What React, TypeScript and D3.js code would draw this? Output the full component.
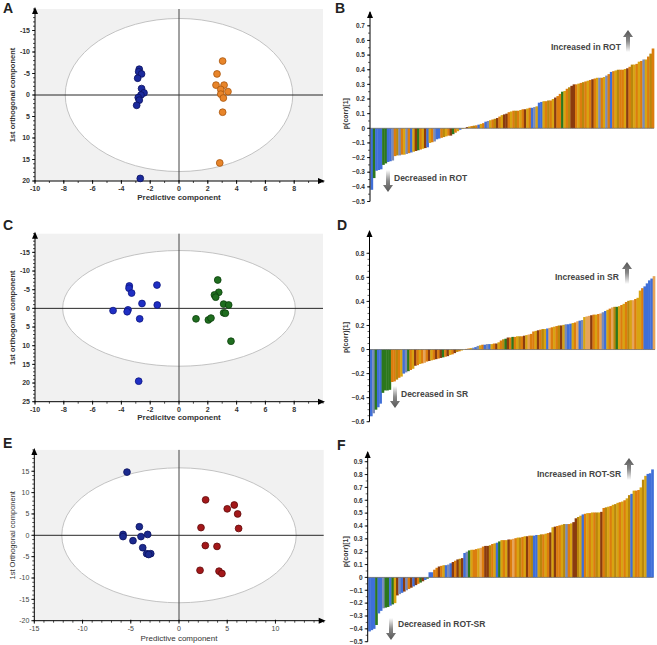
import * as d3 from "d3";

const FONT = "'Liberation Sans', Arial, Helvetica, sans-serif";

type Pt = [number, number];

// ---- score plots (predictive vs 1st orthogonal) ----
const aBlue: Pt[] = [[-2.76, -6.0], [-2.8, -5.4], [-2.6, -4.9], [-2.87, -3.9], [-2.6, -1.5], [-2.43, -0.5], [-2.64, 0], [-2.83, 0.6], [-2.76, 1.2], [-2.94, 2.4], [-2.69, 19.4]];
const aOrange: Pt[] = [[3.03, -7.9], [2.64, -4.9], [2.57, -2.3], [3.13, -2.3], [2.9, -1.3], [3.4, -0.8], [2.9, -0.2], [3.08, 0.7], [3.03, 4.0], [2.83, 15.8]];

const cBlue: Pt[] = [[-3.45, -6.0], [-1.53, -6.25], [-3.47, -5.4], [-3.29, -4.1], [-2.57, -1.3], [-1.51, -0.9], [-4.58, 0.6], [-3.54, 0.4], [-3.6, 0.9], [-2.73, 2.8], [-2.8, 19.5]];
const cGreen: Pt[] = [[2.69, -7.6], [2.76, -4.3], [2.46, -3.6], [2.55, -3.0], [3.1, -1.15], [3.45, -0.9], [1.18, 2.8], [2.04, 3.1], [2.22, 2.6], [3.1, 1.2], [3.22, 1.3], [3.61, 8.8]];

const eBlue: Pt[] = [[-5.39, 14.8], [-4.11, 2.0], [-3.25, 0.2], [-5.8, 0.2], [-5.8, -0.3], [-3.94, -0.3], [-4.77, -1.26], [-3.76, -2.9], [-3.35, -4.3], [-2.93, -4.3], [-3.15, -4.5]];
const eRed: Pt[] = [[2.76, 8.3], [5.73, 7.1], [5.0, 6.2], [6.08, 5.0], [2.28, 1.8], [6.18, 1.6], [2.73, -2.4], [3.94, -2.6], [2.18, -8.2], [4.15, -8.4], [4.45, -8.95]];

const acXTicks = [-10, -8, -6, -4, -2, 0, 2, 4, 6, 8];
const aYTicks = [-15, -10, -5, 0, 5, 10, 15, 20];
const cYTicks = [-15, -10, -5, 0, 5, 10, 15, 20, 25];
const eXTicks = [-15, -10, -5, 0, 5, 10];
const eYTicks = [-20, -15, -10, -5, 0, 5, 10, 15];

// ---- loading plots p(corr)[1], sorted ----
const bValues = [
  -0.42, -0.34, -0.29, -0.285, -0.28, -0.25, -0.24, -0.23, -0.225, -0.22,
  -0.19, -0.185, -0.185, -0.18, -0.18, -0.175, -0.17, -0.165, -0.16, -0.155,
  -0.15, -0.145, -0.14, -0.135, -0.13, -0.1, -0.095, -0.09, -0.075, -0.07,
  -0.065, -0.06, -0.055, -0.05, -0.05, -0.04, -0.03, -0.02, -0.01, -0.005,
  0.002, 0.008, 0.012, 0.015, 0.018, 0.02, 0.025, 0.03, 0.035, 0.045,
  0.05, 0.055, 0.06, 0.065, 0.07, 0.08, 0.09, 0.095, 0.1, 0.11,
  0.115, 0.12, 0.12, 0.12, 0.125, 0.13, 0.13, 0.135, 0.14, 0.14,
  0.145, 0.15, 0.175, 0.18, 0.185, 0.185, 0.19, 0.19, 0.2, 0.21,
  0.22, 0.235, 0.25, 0.255, 0.27, 0.28, 0.29, 0.3, 0.3, 0.305,
  0.31, 0.315, 0.32, 0.325, 0.33, 0.335, 0.34, 0.345, 0.345, 0.345,
  0.35, 0.36, 0.37, 0.385, 0.39, 0.395, 0.4, 0.4, 0.4, 0.405,
  0.41, 0.42, 0.435, 0.435, 0.44, 0.455, 0.46, 0.47, 0.47, 0.49,
  0.51, 0.545,
];
const bColors = [
  "bgbbbggbbs", "oksoysobyr", "goyrbyosbb", "okyorgoyby",
  "oryokobyob", "syokroyrro", "yokoyoryob", "sybbyokoyr",
  "oogyokrroy", "okoyoroyso", "ysoboykooy", "rokyoyosyo", "ko",
].join("");

const dValues = [
  -0.555, -0.53, -0.5, -0.48, -0.45, -0.36, -0.34, -0.34, -0.335, -0.27,
  -0.265, -0.25, -0.235, -0.225, -0.2, -0.19, -0.18, -0.17, -0.16, -0.135,
  -0.13, -0.12, -0.115, -0.11, -0.1, -0.095, -0.09, -0.085, -0.08, -0.075,
  -0.07, -0.065, -0.06, -0.055, -0.045, -0.04, -0.03, -0.02, -0.015, -0.008,
  0.002, 0.005, 0.01, 0.012, 0.015, 0.02, 0.03, 0.035, 0.04, 0.04,
  0.045, 0.045, 0.045, 0.05, 0.05, 0.06, 0.075, 0.085, 0.09, 0.1,
  0.1, 0.105, 0.105, 0.11, 0.11, 0.11, 0.115, 0.12, 0.125, 0.13,
  0.15, 0.155, 0.16, 0.165, 0.17, 0.17, 0.175, 0.18, 0.185, 0.19,
  0.195, 0.2, 0.2, 0.205, 0.21, 0.21, 0.215, 0.22, 0.225, 0.235,
  0.24, 0.245, 0.27, 0.275, 0.28, 0.285, 0.29, 0.29, 0.295, 0.3,
  0.31, 0.32, 0.33, 0.34, 0.35, 0.355, 0.355, 0.36, 0.37, 0.38,
  0.395, 0.405, 0.41, 0.41, 0.42, 0.43, 0.49, 0.51, 0.525, 0.55,
  0.575, 0.59, 0.61,
];
const dColors = [
  "bsgbbggggo", "okoybsgoyr", "oyoloryoro", "rgoryorkoy",
  "yolysbsyob", "sbyoryokgr", "ogoykorylo", "oyrokybloy",
  "okrysbbyol", "bsyllroyol", "sbyolkgyoy", "okyloyyobb", "bbl",
].join("");

const fValues = [
  -0.42, -0.41, -0.4, -0.37, -0.28, -0.26, -0.24, -0.235, -0.23, -0.22,
  -0.21, -0.2, -0.14, -0.13, -0.12, -0.11, -0.1, -0.09, -0.08, -0.07,
  -0.06, -0.05, -0.04, -0.03, -0.02, -0.01,
  0.04, 0.04, 0.06, 0.075, 0.085, 0.09, 0.095, 0.095, 0.1, 0.11,
  0.12, 0.13, 0.14, 0.145, 0.15, 0.19, 0.2, 0.21, 0.215, 0.215,
  0.22, 0.225, 0.23, 0.24, 0.245, 0.245, 0.25, 0.26, 0.265, 0.27,
  0.28, 0.29, 0.29, 0.29, 0.295, 0.295, 0.3, 0.305, 0.31, 0.31,
  0.315, 0.32, 0.32, 0.325, 0.325, 0.325, 0.33, 0.33, 0.335, 0.335,
  0.34, 0.345, 0.35, 0.39, 0.395, 0.4, 0.405, 0.41, 0.415, 0.415,
  0.415, 0.42, 0.43, 0.46, 0.47, 0.48, 0.49, 0.495, 0.5, 0.5,
  0.505, 0.505, 0.505, 0.505, 0.51, 0.54, 0.545, 0.55, 0.555, 0.565,
  0.57, 0.58, 0.585, 0.59, 0.6, 0.615, 0.64, 0.65, 0.675, 0.675,
  0.68, 0.7, 0.76, 0.79, 0.805, 0.81, 0.84,
];
const fColors = [
  "bbbgbbsggb", "gyrsbrsorb", "rogrbg",
  "bbooroybsb", "rorkrbsgyo", "oylorrkoyb", "gyoyroloyk", "oyrokbbyko",
  "yoryrooyks", "oyrrkyboyo", "yokyrokyoy", "kyoyoykbyo", "oykybbb",
].join("");

const bTicks = [-0.5, -0.4, -0.3, -0.2, -0.1, 0, 0.1, 0.2, 0.3, 0.4, 0.5, 0.6, 0.7];
const dTicks = [-0.6, -0.4, -0.2, 0, 0.2, 0.4, 0.6, 0.8];
const fTicks = [-0.5, -0.4, -0.3, -0.2, -0.1, 0, 0.1, 0.2, 0.3, 0.4, 0.5, 0.6, 0.7, 0.8, 0.9];

const palette: Record<string, string> = {
  b: "#3f6fd8",
  s: "#7a8bb8",
  g: "#2c771c",
  o: "#dc7d0e",
  y: "#d8a412",
  k: "#b9870c",
  r: "#8a3b0e",
  l: "#e6a45a",
};

type Scale = d3.ScaleLinear<number, number>;

interface Group {
  pts: Pt[];
  fill: string;
  stroke: string;
}

function Scatter(props: {
  xs: Scale;
  ys: Scale;
  xTicks: number[];
  yTicks: number[];
  yMinor: number;
  ell: [number, number];
  groups: Group[];
  xLabel: string;
  yLabel: string;
  bold: boolean;
  xLabelY: number;
}) {
  const { xs, ys, xTicks, yTicks, yMinor, ell, groups, xLabel, yLabel, bold, xLabelY } = props;
  const [L, R] = xs.range();
  const yr = ys.range();
  const T = Math.min(yr[0], yr[1]);
  const B = Math.max(yr[0], yr[1]);
  const cx = xs(0);
  const cy = ys(0);
  const fw = bold ? "bold" : "normal";
  const tc = bold ? "#333" : "#444";
  const xd = xs.domain();
  const yd = ys.domain();
  const xMinor = d3.range(Math.ceil(Math.min(xd[0], xd[1])), Math.max(xd[0], xd[1]) + 1e-9, 1);
  const yMin = d3.range(Math.min(yd[0], yd[1]), Math.max(yd[0], yd[1]) + 1e-9, yMinor);
  return (
    <g fontFamily={FONT}>
      <rect x={L} y={T} width={R - L} height={B - T} fill="#f1f1f1" />
      <ellipse cx={cx} cy={cy} rx={xs(ell[0]) - cx} ry={Math.abs(ys(ell[1]) - cy)} fill="#fff" stroke="#bcbcbc" strokeWidth={0.9} />
      <line x1={L} x2={R} y1={cy} y2={cy} stroke="#111" strokeWidth={0.9} />
      <line x1={cx} x2={cx} y1={T} y2={B} stroke="#444" strokeWidth={1} />
      {/* axes */}
      <line x1={L} x2={L} y1={B} y2={T} stroke="#000" strokeWidth={1} />
      <path d={`M${L - 3},${T + 5}L${L},${T - 2}L${L + 3},${T + 5}Z`} fill="#000" />
      <line x1={L} x2={R} y1={B} y2={B} stroke="#000" strokeWidth={1} />
      <path d={`M${R - 5},${B - 3}L${R + 2},${B}L${R - 5},${B + 3}Z`} fill="#000" />
      {xMinor.map((v) => (
        <line key={"xm" + v} x1={xs(v)} x2={xs(v)} y1={B} y2={B + 2} stroke="#000" strokeWidth={0.7} />
      ))}
      {xTicks.map((v) => (
        <g key={"x" + v}>
          <line x1={xs(v)} x2={xs(v)} y1={B - 1} y2={B + 3} stroke="#000" strokeWidth={0.8} />
          <text x={xs(v)} y={B + 10} textAnchor="middle" fontSize={7} fontWeight={fw} fill={tc}>
            {v}
          </text>
        </g>
      ))}
      {yMin.map((v) => (
        <line key={"ym" + v} x1={L - 2} x2={L} y1={ys(v)} y2={ys(v)} stroke="#000" strokeWidth={0.7} />
      ))}
      {yTicks.map((v) => (
        <g key={"y" + v}>
          <line x1={L - 3} x2={L} y1={ys(v)} y2={ys(v)} stroke="#000" strokeWidth={0.8} />
          <text x={L - 5} y={ys(v)} dy="0.35em" textAnchor="end" fontSize={7} fontWeight={fw} fill={tc}>
            {v}
          </text>
        </g>
      ))}
      <text x={(L + R) / 2} y={xLabelY} textAnchor="middle" fontSize={8} fontWeight={fw} fill="#333">
        {xLabel}
      </text>
      <text transform={`translate(15,${(T + B) / 2}) rotate(-90)`} textAnchor="middle" fontSize={7.5} fontWeight={fw} fill="#333">
        {yLabel}
      </text>
      {groups.map((g, gi) =>
        g.pts.map((p, i) => (
          <circle key={gi + "-" + i} cx={xs(p[0])} cy={ys(p[1])} r={3.4} fill={g.fill} stroke={g.stroke} strokeWidth={0.8} />
        )),
      )}
    </g>
  );
}

function arrowPath(cx: number, tip: number, len: number, up: boolean) {
  const s = up ? 1 : -1;
  const h = 7 * s;
  const e = len * s;
  return `M${cx},${tip}L${cx + 5},${tip + h}L${cx + 2},${tip + h}L${cx + 2},${tip + e}L${cx - 2},${tip + e}L${cx - 2},${tip + h}L${cx - 5},${tip + h}Z`;
}

function Bars(props: {
  values: number[];
  colors: string;
  ys: Scale;
  x0: number;
  x1: number;
  ticks: number[];
  arrowTop: number;
  up: { text: string; x: number; y: number; ax: number; tip: number };
  down: { text: string; x: number; y: number; ax: number; tip: number };
}) {
  const { values, colors, ys, x0, x1, ticks, arrowTop, up, down } = props;
  const xb = d3.scaleBand<number>().domain(d3.range(values.length)).range([x0 + 0.5, x1]).padding(0);
  const yd = ys.domain();
  const minor = d3.range(yd[0], yd[1] + 1e-9, 0.05);
  const bottom = ys(yd[0]);
  const fmt = (v: number) => (Math.abs(v) < 1e-9 ? "0" : d3.format(".1f")(v));
  return (
    <g fontFamily={FONT}>
      {values.map((v, i) => (
        <rect
          key={i}
          x={xb(i)}
          width={xb.bandwidth() + 0.35}
          y={Math.min(ys(0), ys(v))}
          height={Math.abs(ys(v) - ys(0))}
          fill={palette[colors[i]] || palette.o}
        />
      ))}
      <line x1={x0} x2={x1} y1={ys(0)} y2={ys(0)} stroke="#666" strokeWidth={0.7} />
      <line x1={x0} x2={x0} y1={bottom} y2={arrowTop} stroke="#000" strokeWidth={1} />
      <path d={`M${x0 - 3},${arrowTop + 6}L${x0},${arrowTop - 1}L${x0 + 3},${arrowTop + 6}Z`} fill="#000" />
      {minor.map((v, i) => (
        <line key={"m" + i} x1={x0 - 2} x2={x0} y1={ys(v)} y2={ys(v)} stroke="#000" strokeWidth={0.6} />
      ))}
      {ticks.map((v) => (
        <g key={"t" + v}>
          <line x1={x0 - 3} x2={x0} y1={ys(v)} y2={ys(v)} stroke="#000" strokeWidth={0.8} />
          <text x={x0 - 5} y={ys(v)} dy="0.35em" textAnchor="end" fontSize={6.5} fontWeight="bold" fill="#333">
            {fmt(v)}
          </text>
        </g>
      ))}
      <text
        transform={`translate(348,${(bottom + ys(yd[1])) / 2}) rotate(-90)`}
        textAnchor="middle"
        fontSize={7}
        fontWeight="bold"
        fill="#333"
      >
        p(corr)[1]
      </text>
      <path d={arrowPath(up.ax, up.tip, 22, true)} fill="url(#gradUp)" />
      <text x={up.x} y={up.y} fontSize={8.5} fontWeight="bold" fill="#444">
        {up.text}
      </text>
      <path d={arrowPath(down.ax, down.tip, 22, false)} fill="url(#gradDown)" />
      <text x={down.x} y={down.y} fontSize={8.5} fontWeight="bold" fill="#444">
        {down.text}
      </text>
    </g>
  );
}

export default function App() {
  const acX = d3.scaleLinear().domain([-10, 10]).range([35, 323]);
  const aY = d3.scaleLinear().domain([-20, 20]).range([9, 181]);
  const cY = d3.scaleLinear().domain([-20, 25]).range([233.7, 401.7]);
  const eX = d3.scaleLinear().domain([-15, 15]).range([34.3, 323.7]);
  const eY = d3.scaleLinear().domain([-20, 20]).range([620.7, 449.9]);

  const bY = d3.scaleLinear().domain([-0.5, 0.7]).range([201.5, 25.8]);
  const dY = d3.scaleLinear().domain([-0.6, 0.8]).range([421.7, 253.3]);
  const fY = d3.scaleLinear().domain([-0.5, 0.9]).range([641.7, 461.7]);

  const letter = (t: string, x: number, y: number) => (
    <text x={x} y={y} fontFamily={FONT} fontSize={14} fontWeight="bold" fill="#222">
      {t}
    </text>
  );

  return (
    <svg width={657} height={645} style={{ position: "absolute", left: 0, top: 0, background: "#fff" }}>
      <defs>
        <linearGradient id="gradUp" x1="0" y1="0" x2="0" y2="1">
          <stop offset="0" stopColor="#555" />
          <stop offset="0.5" stopColor="#888" />
          <stop offset="1" stopColor="#fff" />
        </linearGradient>
        <linearGradient id="gradDown" x1="0" y1="1" x2="0" y2="0">
          <stop offset="0" stopColor="#555" />
          <stop offset="0.5" stopColor="#888" />
          <stop offset="1" stopColor="#fff" />
        </linearGradient>
      </defs>
      <rect width={657} height={645} fill="#fff" />

      <Scatter
        xs={acX}
        ys={aY}
        xTicks={acXTicks}
        yTicks={aYTicks}
        yMinor={1}
        ell={[7.9, 17.8]}
        groups={[
          { pts: aBlue, fill: "#1b2a9c", stroke: "#0b1260" },
          { pts: aOrange, fill: "#e8852a", stroke: "#a8560e" },
        ]}
        xLabel="Predictive component"
        yLabel="1st orthogonal component"
        bold={true}
        xLabelY={200}
      />
      <Scatter
        xs={acX}
        ys={cY}
        xTicks={acXTicks}
        yTicks={cYTicks}
        yMinor={1}
        ell={[8.08, 15.5]}
        groups={[
          { pts: cBlue, fill: "#1f2fc4", stroke: "#0d1580" },
          { pts: cGreen, fill: "#1f6e1f", stroke: "#0d400d" },
        ]}
        xLabel="Predicitve component"
        yLabel="1st orthogonal component"
        bold={true}
        xLabelY={420}
      />
      <Scatter
        xs={eX}
        ys={eY}
        xTicks={eXTicks}
        yTicks={eYTicks}
        yMinor={1}
        ell={[12.15, 15.8]}
        groups={[
          { pts: eBlue, fill: "#1b2a8e", stroke: "#0b1260" },
          { pts: eRed, fill: "#a3181a", stroke: "#600a0a" },
        ]}
        xLabel="Predictive component"
        yLabel="1st Orthogonal component"
        bold={false}
        xLabelY={641}
      />

      <Bars
        values={bValues}
        colors={bColors}
        ys={bY}
        x0={370}
        x1={654}
        ticks={bTicks}
        arrowTop={12}
        up={{ text: "Increased in ROT", x: 551, y: 50, ax: 628, tip: 30 }}
        down={{ text: "Decreased in ROT", x: 394, y: 181, ax: 388, tip: 192 }}
      />
      <Bars
        values={dValues}
        colors={dColors}
        ys={dY}
        x0={369.5}
        x1={655}
        ticks={dTicks}
        arrowTop={231}
        up={{ text: "Increased in SR", x: 555, y: 280, ax: 627, tip: 262 }}
        down={{ text: "Decreased in SR", x: 401, y: 397, ax: 395, tip: 408 }}
      />
      <Bars
        values={fValues}
        colors={fColors}
        ys={fY}
        x0={367.7}
        x1={653.5}
        ticks={fTicks}
        arrowTop={452}
        up={{ text: "Increased in ROT-SR", x: 537, y: 477, ax: 629, tip: 458 }}
        down={{ text: "Decreased in ROT-SR", x: 398, y: 627, ax: 391, tip: 640 }}
      />

      {letter("A", 3, 13)}
      {letter("B", 335, 13)}
      {letter("C", 3, 230)}
      {letter("D", 337, 230)}
      {letter("E", 3, 448)}
      {letter("F", 337, 450)}
    </svg>
  );
}
